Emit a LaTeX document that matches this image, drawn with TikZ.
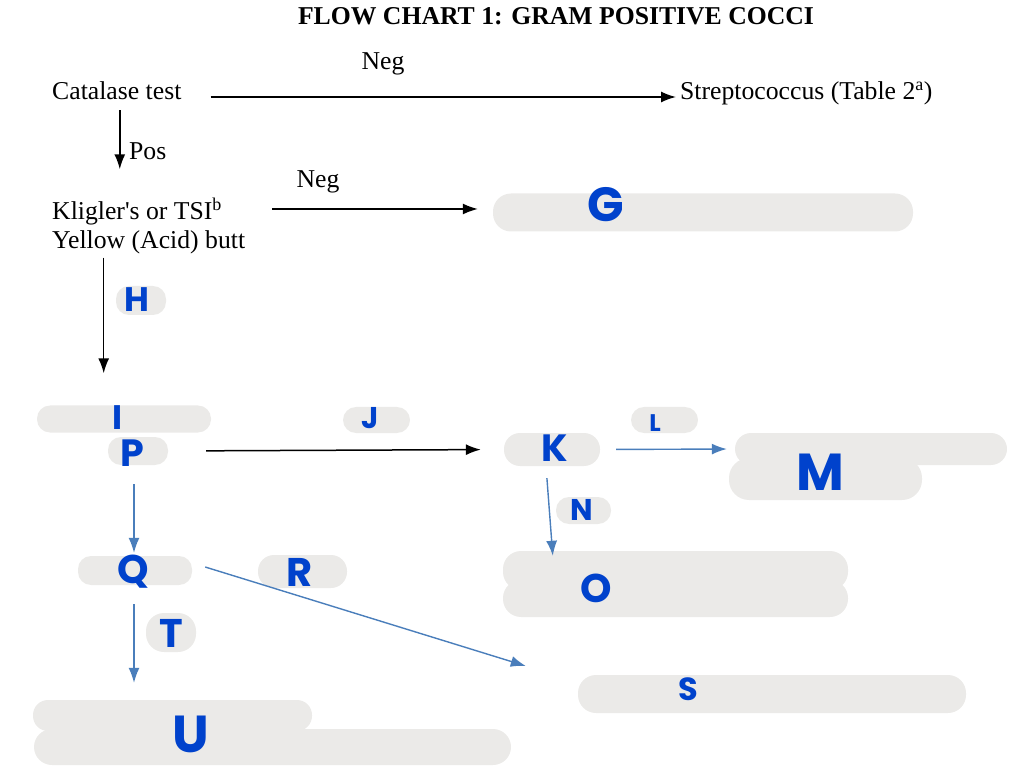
\documentclass[tikz,border=0pt]{standalone}
\usepackage{fontspec}
\setmainfont{Liberation Serif}
\newfontfamily\markfont{Poppins}
\usetikzlibrary{arrows.meta,positioning,calc}
\definecolor{blobgray}{HTML}{EBEAE8}
\definecolor{markblue}{HTML}{0042CC}
\definecolor{arrblue}{HTML}{4A7EBB}

\begin{document}
\begin{tikzpicture}[x=1pt,y=-1pt,
 txt/.style={inner sep=0pt,font=\fontsize{25.7}{30}\selectfont},
 blob/.style={fill=blobgray,rounded corners=#1,inner sep=0pt},
 blob/.default=13pt,
 letter/.style={text=markblue,inner sep=0pt,font=\markfont\bfseries\fontsize{#1}{#1}\selectfont},
 letter/.default=34,
 arr/.style={-{Latex[length=15pt,width=11pt]},line width=1.5pt},
 barr/.style={-{Latex[length=15pt,width=11pt]},line width=1.4pt,draw=arrblue}]
\useasboundingbox (0,0) rectangle (1028,783);
% printed text
\node[txt,font=\bfseries\fontsize{25.7}{30}\selectfont,anchor=base] (title) at (556,25) {FLOW CHART 1: GRAM POSITIVE COCCI};
\node[txt,anchor=base] (neg1) at (383,70) {Neg};
\node[txt,anchor=base west] (cat) at (52,100) {Catalase test};
\node[txt,anchor=base west] (strep) at (680,100) {Streptococcus (Table 2\textsuperscript{a})};
\node[txt,anchor=base west] (pos) at (129,160) {Pos};
\node[txt,anchor=base] (neg2) at (318,188) {Neg};
\node[txt,anchor=base west] (kli1) at (52,220) {Kligler\textquotesingle s or TSI\textsuperscript{b}};
\node[txt,anchor=base west] (kli2) at (52,249) {Yellow (Acid) butt};
% covered answers
\node[blob=18pt,minimum width=420pt,minimum height=38pt] (bG) at (703,212.5) {};
\node[blob,minimum width=50pt,minimum height=29pt] (bH) at (141,300.5) {};
\node[blob,minimum width=174pt,minimum height=27pt] (bI) at (124,419) {};
\node[blob,minimum width=60pt,minimum height=28pt] (bP) at (138,451) {};
\node[blob,minimum width=67pt,minimum height=26pt] (bJ) at (376.5,420) {};
\node[blob=16pt,minimum width=96pt,minimum height=33pt] (bK) at (552,449.5) {};
\node[blob,minimum width=67pt,minimum height=26pt] (bL) at (664.5,420) {};
\node[blob=16pt,minimum width=272pt,minimum height=32pt] (bM1) at (871,449) {};
\node[blob=20pt,minimum width=193pt,minimum height=42pt] (bM2) at (825.5,479) {};
\node[blob,minimum width=55pt,minimum height=27pt] (bN) at (583.5,510.5) {};
\node[blob=18pt,minimum width=345pt,minimum height=39pt] (bO1) at (675.5,570.5) {};
\node[blob=18pt,minimum width=345pt,minimum height=37pt] (bO2) at (675.5,598.5) {};
\node[blob,minimum width=114pt,minimum height=29pt] (bQ) at (135,570.5) {};
\node[blob=16pt,minimum width=89pt,minimum height=33pt] (bR) at (302.5,571.5) {};
\node[blob=18pt,minimum width=50pt,minimum height=39pt] (bT) at (171,632.5) {};
\node[blob=18pt,minimum width=388pt,minimum height=38pt] (bS) at (772,694) {};
\node[blob=15pt,minimum width=279pt,minimum height=31pt] (bU1) at (172.5,715.5) {};
\node[blob=18pt,minimum width=477pt,minimum height=36pt] (bU2) at (272.5,747) {};
% letters
\node[letter=48] (G) at (606,205) {G};
\node[letter] (H) at (137,300) {H};
\node[letter] (I) at (118,418) {I};
\node[letter=38] (P) at (132,453) {P};
\node[letter=30] (J) at (370,418) {J};
\node[letter=38] (K) at (555,448) {K};
\node[letter=24] (L) at (655,423) {L};
\node[letter=52] (M) at (820,472) {M};
\node[letter=30] (N) at (582,510) {N};
\node[letter=40] (O) at (596,588) {O};
\node[letter=40] (Q) at (133,572) {Q};
\node[letter=40] (R) at (300,572) {R};
\node[letter=40] (T) at (171,633) {T};
\node[letter=32] (S) at (688,689) {S};
\node[letter=52] (U) at (191,734) {U};
% connectors
\draw[arr,shorten <=29pt,shorten >=4pt] ([yshift=3pt]cat.base east) -- ([yshift=3pt]strep.base west);
\draw[arr,shorten <=10pt,shorten >=29pt] ([xshift=3pt]cat.south) -- ([xshift=3pt]cat.south |- kli1.north);
\draw[arr,shorten <=50pt,shorten >=15pt] ([yshift=11pt]kli1.base east) -- ([yshift=11pt]kli1.base east -| bG.west);
\draw[arr,shorten <=3pt,shorten >=32pt] ([xshift=-45pt]kli2.south) -- ([xshift=-45pt]kli2.south |- bI.north);
\draw[arr,shorten <=38pt,shorten >=23pt] (bP.east) -- (bK.west);
\draw[barr,shorten <=16pt,shorten >=8pt] (bK.east) -- (bM1.west);
\draw[barr,shorten <=12pt] ([xshift=-6pt]bK.south) -- ([shift={(50pt,-5pt)}]bO1.north west);
\draw[barr,shorten <=19pt,shorten >=3pt] ([xshift=-4pt]bP.south) -- ([xshift=-4pt]bP.south |- bQ.north);
\draw[barr] ([shift={(13pt,3.5pt)}]bQ.east) -- ([shift={(-52pt,28pt)}]bS.west);
\draw[barr,shorten <=19pt,shorten >=17pt] ([xshift=-1pt]bQ.south) -- ([xshift=-1pt]bQ.south |- bU1.north);
\end{tikzpicture}
\end{document}
